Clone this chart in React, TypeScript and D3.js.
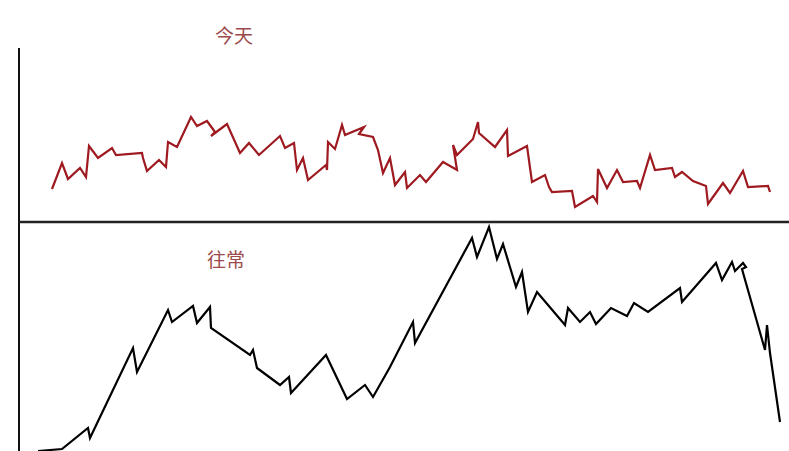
import React from "react";
import * as d3 from "d3";

// "今天" (today) series: time index and value above the middle axis
const todayT = [33,43,49,61,67,70,79,93,97,123,124,128,140,147,149,158,172,178,188,196,192,196,208,221,230,240,261,266,275,278,284,289,307,308,309,316,323,326,345,340,354,359,364,371,376,386,388,401,407,424,438,434,438,454,459,460,476,488,489,508,513,526,530,533,553,556,574,578,579,588,598,604,618,621,631,636,653,656,663,674,687,689,704,711,724,729,749,751];
const todayV = [33,59,43,54,45,76,64,74,67,69,64,51,62,55,80,75,105,96,101,90,86,89,98,69,79,67,86,74,79,52,64,42,57,52,80,73,97,87,95,88,85,72,49,64,37,50,34,47,40,60,52,77,67,83,100,89,75,92,66,76,40,47,35,30,31,15,26,20,53,34,52,40,41,34,67,52,54,45,50,41,36,18,39,29,51,35,36,30];

// "往常" (usual) series
const usualT = [19,43,69,71,114,118,149,153,174,178,191,192,231,234,238,261,270,272,307,328,346,354,371,394,396,453,458,470,478,484,497,503,509,518,546,549,561,571,577,592,608,615,629,661,663,697,703,713,716,724,727,723,746,748,751,761];
const usualV = [0,2,23,13,103,79,141,129,145,128,144,123,96,101,83,66,74,58,96,52,66,54,84,129,108,213,194,224,192,207,164,179,139,159,126,143,129,139,127,143,135,148,139,163,149,188,171,189,180,188,184,182,101,126,98,29];

const labels = ["今天", "往常"];

export default function App() {
  const W = 789, H = 451;
  const x = d3.scaleLinear().domain([0, 770]).range([19, 789]);
  const yTop = d3.scaleLinear().domain([0, 174]).range([222, 48]);
  const yBot = d3.scaleLinear().domain([0, 229]).range([451, 222]);

  const topLine = d3.line<number>()
    .x((_, i) => x(todayT[i]))
    .y((d) => yTop(d));
  const botLine = d3.line<number>()
    .x((_, i) => x(usualT[i]))
    .y((d) => yBot(d));

  return (
    <svg
      width={W}
      height={H}
      style={{ position: "absolute", left: 0, top: 0, display: "block", background: "#fff" }}
    >
      <rect x={0} y={0} width={W} height={H} fill="#fff" />
      {/* axes */}
      <line x1={x(0)} x2={x(0)} y1={yTop(174)} y2={H} stroke="#111" strokeWidth={2} />
      <line x1={x(0)} x2={x(770)} y1={yTop(0)} y2={yTop(0)} stroke="#222" strokeWidth={2.5} />
      {/* series */}
      <path d={topLine(todayV) || ""} fill="none" stroke="#9e1a20" strokeWidth={2.2} strokeLinejoin="miter" />
      <path d={botLine(usualV) || ""} fill="none" stroke="#000" strokeWidth={2.2} strokeLinejoin="miter" />
      {/* labels */}
      <text x={234} y={43} textAnchor="middle" fontFamily="'Noto Sans CJK SC', sans-serif" fontSize={19} fill="#9c4a4b">{labels[0]}</text>
      <text x={226} y={267} textAnchor="middle" fontFamily="'Noto Sans CJK SC', sans-serif" fontSize={19} fill="#9c4a4b">{labels[1]}</text>
    </svg>
  );
}
